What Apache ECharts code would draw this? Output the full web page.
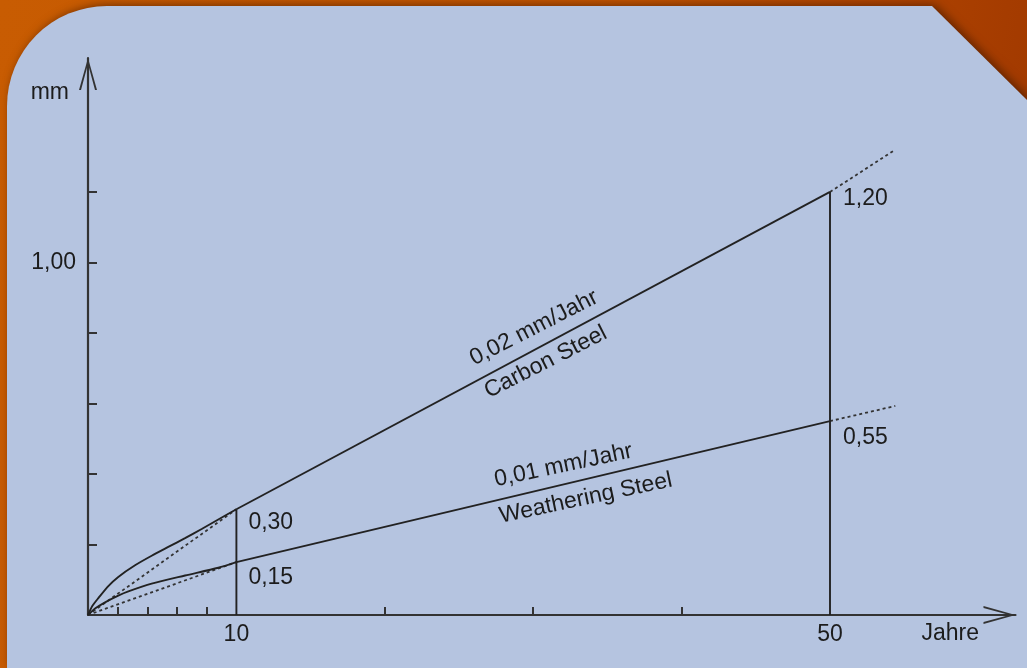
<!DOCTYPE html>
<html><head><meta charset="utf-8">
<script src="https://cdn.jsdelivr.net/npm/echarts@6/dist/echarts.min.js"></script>
<style>
html,body{margin:0;padding:0;width:1027px;height:668px;overflow:hidden;
background:linear-gradient(100deg,#c85c02 0%,#c25400 55%,#a83e00 85%,#9a3400 100%);}
#wrap{position:absolute;left:7px;top:6px;width:1020px;height:662px;filter:drop-shadow(3px -1px 5px rgba(70,25,0,0.7));}
#panel{width:100%;height:100%;background:#b5c4e0;border-top-left-radius:100px;clip-path:polygon(0 0,925px 0,1020px 94px,1020px 100%,0 100%);}
#chart{position:absolute;left:0;top:0;width:1027px;height:668px;}
</style></head><body>
<div id="wrap"><div id="panel"></div></div>
<div id="chart"></div>
<script>
// ---- data (years, mm) ----
const carbonCurveYears = [0, 0.3, 0.7, 1.37, 2.04, 3.17, 4.29, 5.41, 6.54, 7.66, 8.78, 10];
const carbonCurveMm    = [0, 0.026, 0.048, 0.082, 0.108, 0.141, 0.168, 0.193, 0.218, 0.244, 0.271, 0.30];
const carbonLineYears  = [10, 50];
const carbonLineMm     = [0.30, 1.20];
const carbonExtYears   = [50, 54.4];
const carbonExtMm      = [1.20, 1.32];
const carbonStartYears = [0, 10];
const carbonStartMm    = [0, 0.30];

const weatherCurveYears = [0, 0.5, 1.15, 2.04, 2.72, 4.29, 6.54, 8.78, 10];
const weatherCurveMm    = [0, 0.019, 0.036, 0.055, 0.067, 0.089, 0.112, 0.134, 0.15];
const weatherLineYears  = [10, 50];
const weatherLineMm     = [0.15, 0.55];
const weatherExtYears   = [50, 54.4];
const weatherExtMm      = [0.55, 0.593];
const weatherStartYears = [0, 10];
const weatherStartMm    = [0, 0.15];

const markYears = [10, 50];
const markMm    = [0.30, 1.20];

const valueYears = [10, 10, 50, 50];
const valueMm    = [0.30, 0.15, 1.20, 0.55];
const valueTexts = ['0,30', '0,15', '1,20', '0,55'];

const noteYears = [30.05, 30.84, 32.03, 33.54];
const noteMm    = [0.814, 0.717, 0.424, 0.331];
const noteTexts = ['0,02 mm/Jahr', 'Carbon Steel', '0,01 mm/Jahr', 'Weathering Steel'];

const xTickValues  = [2, 4, 6, 8, 20, 30, 40];
const xLabelValues = [10, 50];
const yTickValues  = [0.2, 0.4, 0.6, 0.8, 1.0, 1.2];
const yLabelValues = [1.0];

// ---- helpers ----
const zip = (a, b) => a.map((v, i) => [v, b[i]]);
const FAMILY = '"Liberation Sans", Arial, sans-serif';
const FONT = '23px ' + FAMILY;
const INK = '#1c1c1c';
const LINE = '#222';
const noteAngles = [27, 27, 12, 12];
const valueOffsets = [[12, 2], [12, 4], [13, -5], [13, 5]];
const arrowPath = 'path://M9,0 L18,32 L16,32 L9,6 L2,32 L0,32 Z';

function solid(years, mm, smooth) {
  return { type: 'line', data: zip(years, mm), symbol: 'none', smooth: smooth || false,
    lineStyle: { color: LINE, width: 1.9 }, z: 3, silent: true };
}
function dotted(years, mm) {
  return { type: 'line', data: zip(years, mm), symbol: 'none',
    lineStyle: { color: '#333', width: 1.8, type: [3, 3] }, z: 2, silent: true };
}

const chart = echarts.init(document.getElementById('chart'), null, { renderer: 'canvas' });
const axisColor = '#333';
chart.setOption({
  animation: false,
  backgroundColor: 'transparent',
  grid: { left: 88, right: 1027 - 1015.5, top: 58, bottom: 668 - 615, containLabel: false },
  xAxis: {
    type: 'value', min: 0, max: 62.5,
    name: 'Jahre', nameLocation: 'end', nameGap: -36.5,
    nameTextStyle: { fontSize: 23, fontFamily: FAMILY, color: INK, align: 'right', verticalAlign: 'top', padding: [7, 0, 0, 0] },
    axisLine: { show: true, onZero: false, lineStyle: { color: axisColor, width: 2.2 },
      symbol: ['none', arrowPath], symbolSize: [18, 32], symbolOffset: [0, -16] },
    axisTick: { show: true, inside: true, length: 8, customValues: xTickValues, lineStyle: { color: axisColor, width: 2 } },
    axisLabel: { show: true, customValues: xLabelValues, margin: 8, color: INK, fontSize: 23,
      fontFamily: FAMILY, formatter: v => String(v) },
    splitLine: { show: false }
  },
  yAxis: {
    type: 'value', min: 0, max: 1.58,
    name: 'mm', nameLocation: 'end', nameGap: -35,
    nameTextStyle: { fontSize: 23, fontFamily: FAMILY, color: INK, align: 'right', verticalAlign: 'middle', padding: [0, 19, 0, 0] },
    axisLine: { show: true, onZero: false, lineStyle: { color: axisColor, width: 2.2 },
      symbol: ['none', arrowPath], symbolSize: [18, 32], symbolOffset: [0, -16] },
    axisTick: { show: true, inside: true, length: 9, customValues: yTickValues, lineStyle: { color: axisColor, width: 2 } },
    axisLabel: { show: true, customValues: yLabelValues, margin: 12, color: INK, fontSize: 23,
      fontFamily: FAMILY, formatter: v => v.toFixed(2).replace('.', ',') },
    splitLine: { show: false }
  },
  series: [
    dotted(carbonStartYears, carbonStartMm),
    dotted(weatherStartYears, weatherStartMm),
    dotted(carbonExtYears, carbonExtMm),
    dotted(weatherExtYears, weatherExtMm),
    solid(carbonCurveYears, carbonCurveMm, 0.25),
    solid(carbonLineYears, carbonLineMm),
    solid(weatherCurveYears, weatherCurveMm, 0.25),
    solid(weatherLineYears, weatherLineMm),
    solid([markYears[0], markYears[0]], [0, markMm[0]]),
    solid([markYears[1], markYears[1]], [0, markMm[1]]),
    {
      type: 'custom', silent: true, z: 5,
      data: zip(valueYears, valueMm),
      renderItem: (params, api) => {
        const p = api.coord([api.value(0), api.value(1)]);
        const o = valueOffsets[params.dataIndex];
        return { type: 'text', x: p[0] + o[0], y: p[1] + o[1],
          style: { text: valueTexts[params.dataIndex], font: FONT, fill: INK, align: 'left', verticalAlign: 'top' } };
      }
    },
    {
      type: 'custom', silent: true, z: 5,
      data: zip(noteYears, noteMm),
      renderItem: (params, api) => {
        const p = api.coord([api.value(0), api.value(1)]);
        return { type: 'text', x: p[0], y: p[1], rotation: noteAngles[params.dataIndex] * Math.PI / 180,
          style: { text: noteTexts[params.dataIndex], font: FONT, fill: INK, align: 'center', verticalAlign: 'middle' } };
      }
    }
  ]
});
</script>
</body></html>
